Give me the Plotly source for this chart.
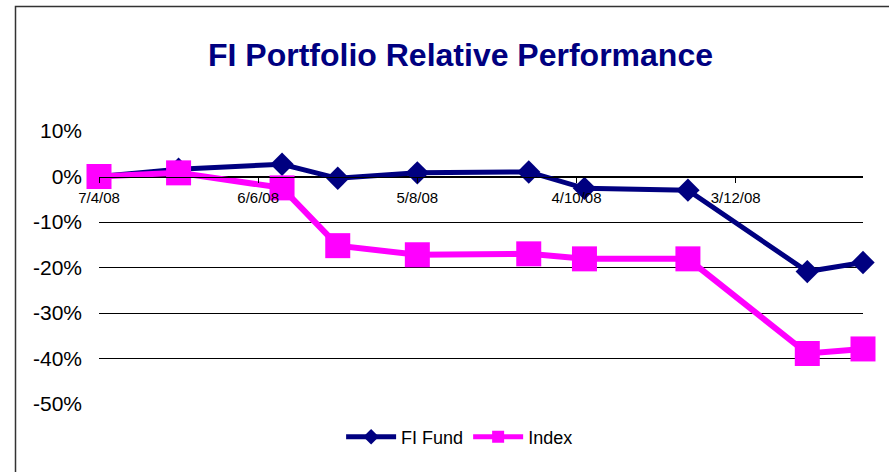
import plotly.graph_objects as go

# Data (x = trading-day offset back from 7/4/08, y = relative performance in %)
trading_day = [0, 10, 23, 30, 40, 54, 61, 74, 89, 96]
fi_fund = [0.0, 1.6, 2.7, -0.4, 0.8, 1.0, -2.6, -3.0, -20.9, -18.9]
index_vals = [0.0, 0.8, -2.5, -15.2, -17.2, -17.0, -18.1, -18.1, -38.9, -37.9]
x_tick_pos = [0, 20, 40, 60, 80]
x_tick_labels = ["7/4/08", "6/6/08", "5/8/08", "4/10/08", "3/12/08"]
y_tick_vals = [10, 0, -10, -20, -30, -40, -50]
y_tick_labels = ["10%", "0%", "-10%", "-20%", "-30%", "-40%", "-50%"]

FONT = "Liberation Sans, Arial, sans-serif"
NAVY = "#000080"
MAGENTA = "#FF00FF"

fig = go.Figure()
fig.add_trace(go.Scatter(
    x=trading_day, y=fi_fund, name="FI Fund", mode="lines+markers",
    line=dict(color=NAVY, width=5), cliponaxis=False,
    marker=dict(symbol="diamond", size=18, color=NAVY),
))
fig.add_trace(go.Scatter(
    x=trading_day, y=index_vals, name="Index", mode="lines+markers",
    line=dict(color=MAGENTA, width=6), cliponaxis=False,
    marker=dict(symbol="square", size=25, color=MAGENTA),
))

fig.update_layout(
    width=889, height=472,
    margin=dict(l=99, r=26, t=131, b=68),
    paper_bgcolor="white", plot_bgcolor="white",
    font=dict(family=FONT, color="black"),
    title=dict(
        text="<b>FI Portfolio Relative Performance</b>",
        font=dict(family=FONT, size=32, color=NAVY),
        x=0.518, xref="container", xanchor="center",
        y=0.883, yref="container", yanchor="middle",
    ),
    xaxis=dict(
        range=[0, 96], anchor="free", position=50 / 60,
        tickmode="array", tickvals=x_tick_pos, ticktext=x_tick_labels,
        ticks="outside", ticklen=5, tickcolor="black", tickwidth=1,
        ticklabelstandoff=2,
        showline=True, linecolor="black", linewidth=1,
        showgrid=False, zeroline=False,
        tickfont=dict(family=FONT, size=15, color="black"),
    ),
    yaxis=dict(
        range=[-50, 10],
        tickmode="array", tickvals=y_tick_vals, ticktext=y_tick_labels,
        showgrid=True, gridcolor="black", gridwidth=1,
        zeroline=False, showline=False, ticks="",
        ticklabelstandoff=16,
        tickfont=dict(family=FONT, size=21, color="black"),
    ),
    legend=dict(
        orientation="h", x=0.472, xanchor="center", y=-0.121, yanchor="middle",
        font=dict(family=FONT, size=18, color="black"),
        bgcolor="rgba(0,0,0,0)", itemwidth=50, itemsizing="constant",
    ),
    showlegend=True,
)

fig.add_shape(
    type="rect", xref="paper", yref="paper",
    x0=(15.5 - 99) / 764, x1=1.3, y0=-0.6, y1=1 + (131 - 6.5) / 273,
    line=dict(color="#333333", width=1.5), fillcolor="rgba(0,0,0,0)", layer="below",
)

fig.write_html(
    "out.html",
    config={"displayModeBar": False},
    post_script="document.body.style.margin='0';document.body.style.overflow='hidden';",
)
